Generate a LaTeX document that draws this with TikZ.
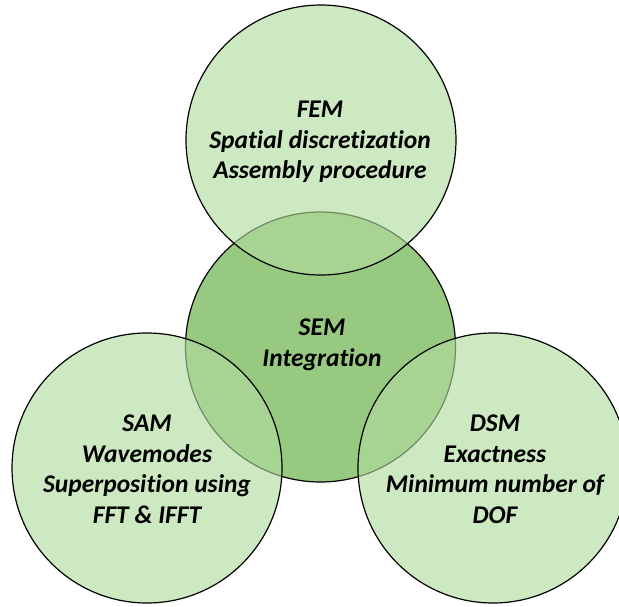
\documentclass[tikz,border=0pt]{standalone}
\usepackage{fontspec}
\setmainfont[Ligatures={NoCommon}]{Carlito}
\definecolor{centerfill}{RGB}{152,201,128}
\definecolor{sidefill}{RGB}{176,220,157}
\begin{document}
\begin{tikzpicture}[x=1pt,y=-1pt,
  ring/.style={circle, draw=black, line width=1.2pt, minimum size=270pt, inner sep=0pt},
  sidering/.style={ring, fill=sidefill, fill opacity=0.63},
  midring/.style={ring, fill=centerfill},
  lbl/.style={align=center, font=\fontsize{25.5}{30.5}\selectfont\bfseries\itshape, text=black}]
\useasboundingbox (0,0) rectangle (619,606);
\begin{scope}
\clip (0,0) rectangle (619,606);
\node[midring] (sem) at (320.5,347) {};
\node[sidering] (fem) at (321,140) {};
\node[sidering] (sam) at (147,468) {};
\node[sidering] (dsm) at (493,468) {};
\end{scope}
\node[lbl] (femtext) at (320,142) {FEM\\Spatial discretization\\Assembly procedure};
\node[lbl] (semtext) at (322,345) {SEM\\Integration};
\node[lbl] (samtext) at (147,469) {SAM\\Wavemodes\\Superposition using\\FFT \& IFFT};
\node[lbl] (dsmtext) at (495,469) {DSM\\Exactness\\Minimum number of\\DOF};
\end{tikzpicture}
\end{document}
